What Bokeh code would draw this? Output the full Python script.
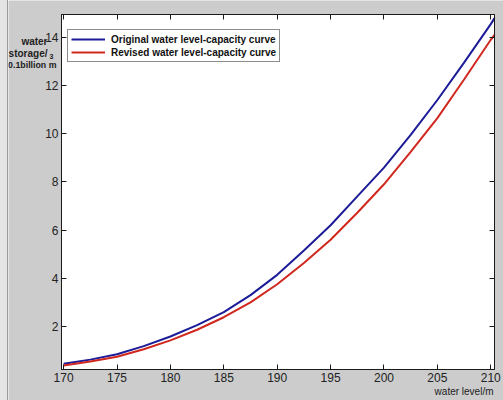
from bokeh.plotting import figure
from bokeh.models import (Range1d, LinearAxis, FixedTicker, Legend, LegendItem, Label, Spacer)
from bokeh.layouts import row
from bokeh.embed import file_html
from bokeh.resources import INLINE

# ---- data ----
water_level = [170, 172.5, 175, 177.5, 180, 182.5, 185, 187.5, 190, 192.5,
               195, 197.5, 200, 202.5, 205, 207.5, 210, 210.35]
original_capacity = [0.45, 0.62, 0.84, 1.18, 1.58, 2.05, 2.59, 3.30, 4.14, 5.15,
                     6.20, 7.40, 8.59, 9.95, 11.40, 12.95, 14.55, 14.80]
revised_capacity = [0.38, 0.54, 0.74, 1.05, 1.42, 1.86, 2.38, 3.00, 3.75, 4.63,
                    5.60, 6.72, 7.90, 9.25, 10.65, 12.25, 13.90, 14.10]
x_ticks = [170, 175, 180, 185, 190, 195, 200, 205, 210]
y_ticks = [2, 4, 6, 8, 10, 12, 14]
series_names = ["Original water level-capacity curve", "Revised water level-capacity curve"]
x_title = "water level/m"
y_title_lines = ["water", "storage/", "0.1billion m"]

# axes-box limits (data)
X0, X1 = 169.8, 210.35
Y0, Y1 = 0.21, 14.95

# layout constants (canvas pixels of the 495x400 figure)
W, H = 495, 400
BOX_L, BOX_R, BOX_T, BOX_B = 53, 486, 14, 369
kx = (X1 - X0) / (BOX_R - BOX_L)
ky = (Y1 - Y0) / (BOX_B - BOX_T)
XR = Range1d(X0 - BOX_L * kx, X1 + (W - BOX_R) * kx)
YR = Range1d(Y0 - (H - BOX_B) * ky, Y1 + BOX_T * ky)

def px2x(px):
    return XR.start + px * kx
def py2y(py):
    return YR.end - py * ky

BG = "#cccccc"
FONT = "Liberation Sans"
INK = "#1a1a1a"

p = figure(width=W, height=H, output_backend="svg", toolbar_location=None,
           x_range=XR, y_range=YR,
           min_border_left=0, min_border_right=0, min_border_top=0, min_border_bottom=0)
p.border_fill_color = BG
p.background_fill_color = BG
p.outline_line_color = None
p.grid.visible = False

# the white axes box
p.quad(left=[X0], right=[X1], bottom=[Y0], top=[Y1],
       fill_color="white", line_color=INK, line_width=1)

def style_axis(ax, ticks, loc, bounds, show_labels):
    ax.fixed_location = loc
    ax.bounds = bounds
    ax.ticker = FixedTicker(ticks=ticks)
    ax.major_tick_in = 5
    ax.major_tick_out = 0
    ax.minor_tick_line_color = None
    ax.axis_line_color = INK
    ax.major_tick_line_color = INK
    ax.major_label_text_font = FONT
    ax.major_label_text_font_size = "12px"
    ax.major_label_text_color = "#222222"
    ax.major_label_standoff = 3
    if not show_labels:
        ax.major_label_text_alpha = 0

style_axis(p.xaxis[0], x_ticks, Y0, (X0, X1), True)
p.xaxis[0].major_label_standoff = 3
style_axis(p.yaxis[0], y_ticks, X0, (Y0, Y1), True)
top = LinearAxis()
style_axis(top, x_ticks, Y1, (X0, X1), False)
p.add_layout(top, "above")
right = LinearAxis()
style_axis(right, y_ticks, X1, (Y0, Y1), False)
p.add_layout(right, "right")

r1 = p.line(water_level, original_capacity, line_color="#1c1c98", line_width=2)
r2 = p.line(water_level, revised_capacity, line_color="#d0281e", line_width=2)

legend = Legend(items=[LegendItem(label=series_names[0], renderers=[r1]),
                       LegendItem(label=series_names[1], renderers=[r2])],
                location=(BOX_L + 6, H - 62))
legend.label_text_font = FONT
legend.label_text_font_style = "bold"
legend.label_text_font_size = "10px"
legend.label_text_color = "#111111"
legend.glyph_width = 34
legend.glyph_height = 12
legend.label_height = 12
legend.label_standoff = 6
legend.spacing = 1
legend.padding = 3
legend.margin = 0
legend.border_line_color = INK
legend.border_line_width = 1
legend.background_fill_color = "white"
legend.background_fill_alpha = 1
p.add_layout(legend, "center")

def add_label(text, px, py, size, align="right", style="bold"):
    p.add_layout(Label(x=px2x(px), y=py2y(py), text=text, text_align=align,
                       text_baseline="middle", text_font=FONT, text_font_size=size,
                       text_font_style=style, text_color="#222222"))

add_label(y_title_lines[0], 39, 41, "10px")
add_label(y_title_lines[1], 39, 53, "10px")
add_label(y_title_lines[2], 48, 64, "8.8px")
add_label("3", 41, 56, "7px", align="left")
add_label(x_title, 485, 391, "10px", style="normal")

strip = Spacer(width=8, height=H, styles={"background-color": "#e4e4e4",
                                          "border-right": "1px solid #9a9a9a"})
layout = row(strip, p, spacing=0)

open("out.html", "w").write(file_html(layout, INLINE))
